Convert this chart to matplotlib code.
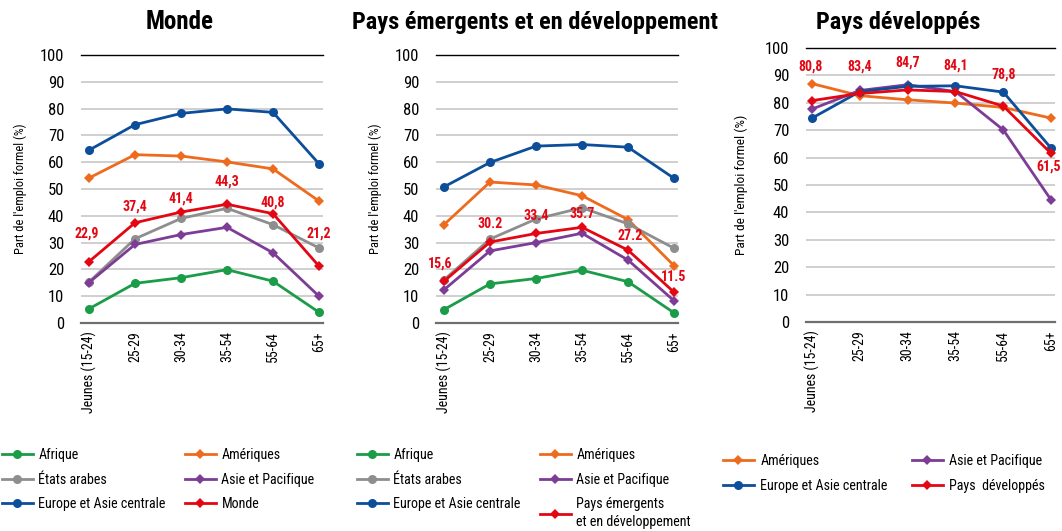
import matplotlib
matplotlib.use("Agg")
import matplotlib.pyplot as plt
from matplotlib.lines import Line2D

FONT = ['Roboto Condensed', 'Barlow Semi Condensed', 'DejaVu Sans']
plt.rcParams['font.family'] = FONT

categories = ["Jeunes (15-24)", "25-29", "30-34", "35-54", "55-64", "65+"]
yticks = [0, 10, 20, 30, 40, 50, 60, 70, 80, 90, 100]

# Panel 1: Monde
monde_afrique = [5.3, 14.8, 16.9, 19.9, 15.6, 4.0]
monde_ameriques = [54.1, 62.8, 62.3, 60.1, 57.5, 45.5]
monde_etats_arabes = [15.3, 31.4, 39.0, 42.8, 36.7, 28.0]
monde_asie = [15.1, 29.3, 33.0, 35.7, 26.2, 10.0]
monde_europe = [64.5, 74.0, 78.2, 79.9, 78.6, 59.4]
monde_total = [22.9, 37.4, 41.4, 44.3, 40.8, 21.2]
monde_labels = ["22,9", "37,4", "41,4", "44,3", "40,8", "21,2"]

# Panel 2: Pays émergents et en développement
emd_afrique = [5.0, 14.6, 16.6, 19.7, 15.4, 3.8]
emd_ameriques = [36.7, 52.6, 51.5, 47.5, 38.6, 21.4]
emd_etats_arabes = [16.1, 31.3, 38.8, 43.0, 37.0, 27.9]
emd_asie = [12.4, 26.9, 30.0, 33.5, 23.5, 8.3]
emd_europe = [50.8, 59.9, 66.0, 66.6, 65.6, 54.0]
emd_total = [15.6, 30.2, 33.4, 35.7, 27.2, 11.5]
emd_labels = ["15,6", "30.2", "33.4", "35.7", "27.2", "11.5"]

# Panel 3: Pays développés
dev_ameriques = [87.0, 82.6, 81.1, 79.9, 78.3, 74.4]
dev_europe = [74.4, 84.1, 86.0, 86.2, 83.9, 63.4]
dev_asie = [77.7, 84.5, 86.6, 84.1, 70.1, 44.5]
dev_total = [80.8, 83.4, 84.7, 84.1, 78.8, 61.5]
dev_labels = ["80,8", "83,4", "84,7", "84,1", "78,8", "61,5"]

C_GREEN = "#1a9c48"
C_ORANGE = "#ee6b1e"
C_GRAY = "#8e8e8e"
C_PURPLE = "#7d3c96"
C_BLUE = "#0d4e9a"
C_RED = "#e30613"

W, H = 1062, 531
fig = plt.figure(figsize=(W / 100, H / 100), dpi=100)


def px_axes(x0, y0, x1, y1):
    return fig.add_axes([x0 / W, 1 - y1 / H, (x1 - x0) / W, (y1 - y0) / H])


def setup(ax, xlim, ylabel_size):
    ax.set_xlim(*xlim)
    ax.set_ylim(0, 100)
    ax.set_yticks(yticks)
    ax.set_xticks(range(len(categories)))
    ax.set_xticklabels(categories, rotation=90, fontsize=10)
    ax.tick_params(axis='y', length=0, pad=12, labelsize=12)
    ax.tick_params(axis='x', length=0, pad=6)
    for s in ax.spines.values():
        s.set_visible(False)
    for v in yticks[1:-1]:
        ax.axhline(v, color="#cfcfcf", lw=1.4, zorder=0)
    ax.axhline(100, color="black", lw=1.0, zorder=0, clip_on=False)
    ax.axhline(0, color="#6e6e6e", lw=1.6, zorder=0, clip_on=False)
    ax.set_ylabel("Part de l'emploi formel (%)", fontsize=ylabel_size)
    ax.set_facecolor("none")


LW = 2.0
MS_C = 6.5
MS_D = 5.5


def plot_series(ax, vals, color, marker):
    ms = MS_C if marker == 'o' else MS_D
    ax.plot(range(len(vals)), vals, color=color, lw=LW, marker=marker,
            markersize=ms, markeredgewidth=0, zorder=3)


def add_labels(ax, vals, labels, offsets):
    for i, (v, t, (dx, dy)) in enumerate(zip(vals, labels, offsets)):
        ax.annotate(t, (i, v), xytext=(dx, dy), textcoords='offset pixels',
                    ha='center', va='center', color=C_RED, fontsize=10,
                    fontweight='bold', zorder=5)


def handle(color, marker):
    ms = MS_C if marker == 'o' else MS_D
    return Line2D([], [], color=color, lw=LW, marker=marker, markersize=ms,
                  markeredgewidth=0)


def column_legend(items, x, y, fs=10.1, hl=2.2, pad=0.4, spacing=0.75):
    hs = [handle(c, m) for (_, c, m) in items]
    ls = [t for (t, _, _) in items]
    leg = fig.legend(hs, ls, loc='upper left',
                     bbox_to_anchor=(x / W, 1 - y / H),
                     frameon=False, fontsize=fs, handlelength=hl,
                     handletextpad=pad, labelspacing=spacing, borderpad=0,
                     borderaxespad=0, numpoints=1)
    for t in leg.get_texts():
        t.set_linespacing(1.35)
    return leg


# ---- Panel 1
ax1 = px_axes(81, 55, 323, 323)
setup(ax1, (-0.174, 5.087), 9.0)
plot_series(ax1, monde_afrique, C_GREEN, 'o')
plot_series(ax1, monde_ameriques, C_ORANGE, 'D')
plot_series(ax1, monde_etats_arabes, C_GRAY, 'o')
plot_series(ax1, monde_asie, C_PURPLE, 'D')
plot_series(ax1, monde_europe, C_BLUE, 'o')
plot_series(ax1, monde_total, C_RED, 'D')
add_labels(ax1, monde_total, monde_labels,
           [(-2, 28), (0, 16), (0, 14), (0, 23), (0, 11), (0, 33)])
ax1.yaxis.set_label_coords(-0.225, 0.5)

# ---- Panel 2
ax2 = px_axes(436, 55, 678, 323)
setup(ax2, (-0.174, 5.087), 9.0)
plot_series(ax2, emd_afrique, C_GREEN, 'o')
plot_series(ax2, emd_ameriques, C_ORANGE, 'D')
plot_series(ax2, emd_etats_arabes, C_GRAY, 'o')
plot_series(ax2, emd_asie, C_PURPLE, 'D')
plot_series(ax2, emd_europe, C_BLUE, 'o')
plot_series(ax2, emd_total, C_RED, 'D')
add_labels(ax2, emd_total, emd_labels,
           [(-4, 18), (0, 18), (0, 17), (0, 13), (2, 14), (0, 15)])
ax2.yaxis.set_label_coords(-0.225, 0.5)

# ---- Panel 3
ax3 = px_axes(806, 48, 1055, 322)
setup(ax3, (-0.125, 5.08), 9.6)
plot_series(ax3, dev_ameriques, C_ORANGE, 'D')
plot_series(ax3, dev_asie, C_PURPLE, 'D')
plot_series(ax3, dev_europe, C_BLUE, 'o')
plot_series(ax3, dev_total, C_RED, 'D')
add_labels(ax3, dev_total, dev_labels,
           [(-1, 34), (0, 27), (0, 27), (0, 26), (0, 32), (-3, -13)])
ax3.yaxis.set_label_coords(-0.233, 0.5)

# ---- Titles
fig.text(180 / W, 1 - 22 / H, "Monde", ha='center', va='center',
         fontsize=18, fontweight='bold')
fig.text(535 / W, 1 - 22 / H, "Pays émergents et en développement",
         ha='center', va='center', fontsize=17.6, fontweight='bold')
fig.text(898 / W, 1 - 22 / H, "Pays développés", ha='center', va='center',
         fontsize=17.6, fontweight='bold')

# ---- Legends
column_legend([("Afrique", C_GREEN, 'o'), ("États arabes", C_GRAY, 'o'),
               ("Europe et Asie centrale", C_BLUE, 'o')], 2, 448)
column_legend([("Amériques", C_ORANGE, 'D'), ("Asie et Pacifique", C_PURPLE, 'D'),
               ("Monde", C_RED, 'D')], 185, 448)
column_legend([("Afrique", C_GREEN, 'o'), ("États arabes", C_GRAY, 'o'),
               ("Europe et Asie centrale", C_BLUE, 'o')], 357, 448)
column_legend([("Amériques", C_ORANGE, 'D'), ("Asie et Pacifique", C_PURPLE, 'D'),
               ("Pays émergents\net en développement", C_RED, 'D')], 540, 448)
column_legend([("Amériques", C_ORANGE, 'D'), ("Europe et Asie centrale", C_BLUE, 'o')],
              723, 454, pad=0.45)
column_legend([("Asie et Pacifique", C_PURPLE, 'D'), ("Pays  développés", C_RED, 'D')],
              912, 454, pad=0.45)

fig.savefig("out.png", dpi=100)
